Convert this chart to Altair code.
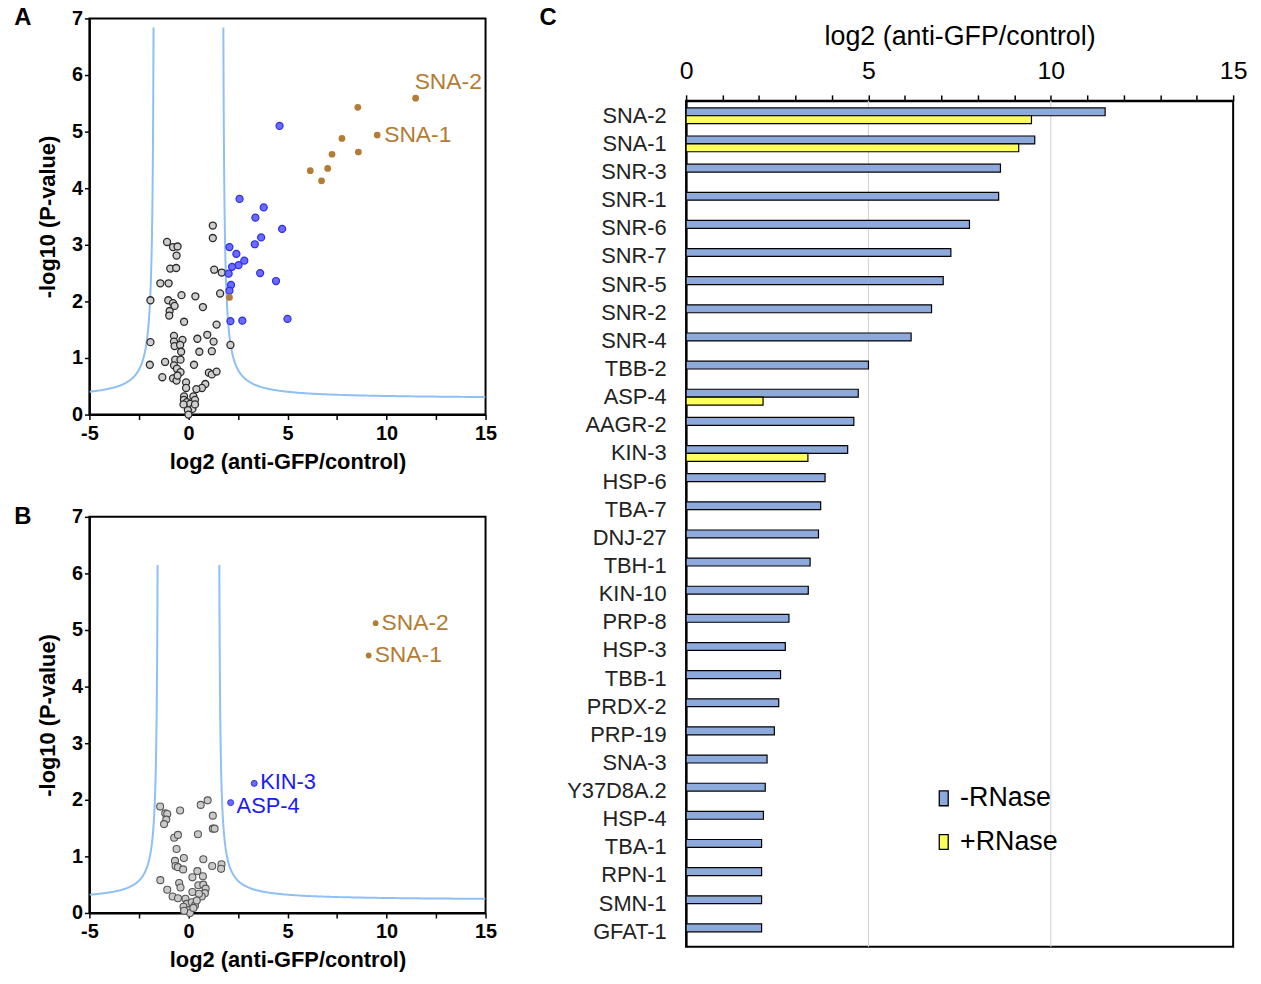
import altair as alt
import pandas as pd
import numpy as np

FONT = "Liberation Sans"

# ---------------- Panel A data ----------------
a_gray_x = [-1.08, -0.78, -0.55, -0.60, -0.92, -0.62, 1.23, 1.23, -1.42, -1.00,
            -1.92, -1.02, -0.78, -0.70, -0.95, -0.97, -0.35, 0.35, 0.73, 1.30,
            1.68, 1.60, 1.42, -0.22, 2.12, -1.92, -0.73, -0.30, -0.73, -0.70,
            -0.42, -0.37, 0.45, 0.95, 1.27, 0.55, 1.18, -0.67, -0.40, -1.18,
            -1.95, -0.73, -0.58, -1.32, -0.78, -0.60, -0.40, -0.55, 0.28, 1.03,
            1.18, 1.42, 0.85, 0.68, 0.40, -0.12, -0.12, -0.22, -0.23, -0.08,
            0.25, 0.33, 0.08, 0.20, -0.03, 0.00, 0.33, -0.25]
a_gray_y = [3.05, 2.96, 2.97, 2.81, 2.58, 2.59, 3.34, 3.12, 2.32, 2.32,
            2.02, 2.02, 1.97, 1.92, 1.83, 1.75, 2.11, 2.09, 1.90, 2.56,
            2.51, 2.14, 1.59, 1.64, 1.23, 1.28, 1.39, 1.32, 1.29, 1.21,
            1.23, 1.11, 1.34, 1.41, 1.29, 1.11, 1.12, 0.97, 0.97, 0.93,
            0.88, 0.87, 0.81, 0.66, 0.64, 0.60, 0.75, 0.69, 0.88, 0.74,
            0.71, 0.76, 0.54, 0.47, 0.45, 0.57, 0.47, 0.32, 0.26, 0.22,
            0.32, 0.26, 0.19, 0.10, 0.08, 0.00, 0.18, 0.18]
a_blue_x = [4.60, 2.58, 3.80, 3.38, 4.73, 3.67, 3.35, 2.07, 2.42, 2.82,
            2.53, 2.20, 2.03, 3.62, 4.42, 2.15, 2.07, 2.12, 2.72, 5.00]
a_blue_y = [5.10, 3.81, 3.66, 3.48, 3.28, 3.13, 3.01, 2.96, 2.84, 2.72,
            2.64, 2.61, 2.49, 2.50, 2.36, 2.29, 2.19, 1.65, 1.66, 1.69]
a_orange_x = [11.47, 8.55, 9.53, 7.75, 7.25, 8.58, 6.15, 7.03, 6.72, 2.07]
a_orange_y = [5.59, 5.43, 4.94, 4.88, 4.60, 4.64, 4.31, 4.35, 4.13, 2.07]

# ---------------- Panel B data ----------------
b_gray_x = [-1.43, -1.17, -1.07, -1.12, -1.23, -0.42, 0.62, 0.97, 1.23, 1.23,
            1.32, -0.72, -0.53, 0.48, -0.60, -0.23, -0.68, 0.75, -0.65, -0.53,
            -0.27, 1.20, 1.67, 1.65, -1.42, -0.47, -0.40, 0.45, 0.20, 0.73,
            0.50, 0.75, 0.87, 0.83, -1.07, -0.80, -0.53, -0.15, 0.20, 0.67,
            0.53, -0.08, 0.17, 0.33, 0.42, -0.25, 0.00, 0.08, -0.22, 0.25]
b_gray_y = [1.88, 1.76, 1.75, 1.65, 1.57, 1.81, 1.91, 1.99, 1.72, 1.49,
            1.49, 1.33, 1.38, 1.39, 1.13, 0.97, 0.92, 0.95, 0.83, 0.81,
            0.77, 0.83, 0.86, 0.78, 0.58, 0.53, 0.45, 0.74, 0.63, 0.65,
            0.49, 0.50, 0.43, 0.35, 0.41, 0.29, 0.26, 0.25, 0.37, 0.29,
            0.34, 0.16, 0.19, 0.13, 0.22, 0.11, 0.05, 0.00, 0.04, 0.09]
b_orange_names = ["SNA-2", "SNA-1"]
b_orange_x = [9.45, 9.10]
b_orange_y = [5.12, 4.55]
b_blue_names = ["KIN-3", "ASP-4"]
b_blue_x = [3.32, 2.13]
b_blue_y = [2.29, 1.95]

# significance threshold curves: y = c / (|x| - x0) + y0
a_curve = {"x0": 1.70, "c": 0.411, "y0": 0.279, "top": 6.84}
b_curve = {"x0": 1.50, "c": 0.346, "y0": 0.224, "top": 6.15}

# ---------------- Panel C data ----------------
genes = ["SNA-2", "SNA-1", "SNR-3", "SNR-1", "SNR-6", "SNR-7", "SNR-5", "SNR-2",
         "SNR-4", "TBB-2", "ASP-4", "AAGR-2", "KIN-3", "HSP-6", "TBA-7", "DNJ-27",
         "TBH-1", "KIN-10", "PRP-8", "HSP-3", "TBB-1", "PRDX-2", "PRP-19", "SNA-3",
         "Y37D8A.2", "HSP-4", "TBA-1", "RPN-1", "SMN-1", "GFAT-1"]
minus_rnase = [11.49, 9.56, 8.62, 8.57, 7.77, 7.26, 7.05, 6.73, 6.17, 5.00,
               4.72, 4.60, 4.43, 3.81, 3.69, 3.63, 3.40, 3.35, 2.82, 2.72,
               2.59, 2.54, 2.42, 2.22, 2.17, 2.12, 2.07, 2.07, 2.07, 2.07]
plus_genes = ["SNA-2", "SNA-1", "ASP-4", "KIN-3"]
plus_rnase = [9.47, 9.12, 2.11, 3.34]
series_names = ["-RNase", "+RNase"]
series_colors = ["#8eaadc", "#ffff5c"]
grid_vals = [5, 10]

ORANGE = "#b37b34"
BLUE_TXT = "#1a1aff"
CURVE = "#8ec0f5"

LABEL_EXPR = ("datum.value % 5 === 0 ? (datum.value < 0 ? '-' + abs(datum.value) "
              ": '' + datum.value) : ''")


def curve_df(p, xmin=-5, xmax=15):
    rows = []
    for sign, lim in ((-1, -xmin), (1, xmax)):
        dmin = p["c"] / (p["top"] - p["y0"])
        for i, d in enumerate(np.geomspace(dmin, lim - p["x0"], 300)):
            rows.append({"x": sign * (p["x0"] + d), "y": p["c"] / d + p["y0"],
                         "branch": sign, "o": i})
    return pd.DataFrame(rows)


X = alt.X("x:Q", scale=alt.Scale(domain=[-5, 15], nice=False, zero=False),
          axis=alt.Axis(values=[-5, -2.5, 0, 2.5, 5, 7.5, 10, 12.5, 15],
                        labelExpr=LABEL_EXPR,
                        labelFlush=False, labelOverlap=False,
                        title="log2 (anti-GFP/control)",
                        labelFontSize=20, labelFontWeight="bold",
                        titleFontSize=22, titleFontWeight="bold",
                        tickSize=5, tickWidth=1.5, labelPadding=4, titlePadding=8,
                        domainWidth=2))
Y = alt.Y("y:Q", scale=alt.Scale(domain=[0, 7], nice=False),
          axis=alt.Axis(values=[0, 1, 2, 3, 4, 5, 6, 7],
                        title="-log10 (P-value)",
                        labelFontSize=20, labelFontWeight="bold",
                        titleFontSize=22, titleFontWeight="bold",
                        tickSize=5, tickWidth=1.5, labelPadding=2, titlePadding=12,
                        domainWidth=2))


def pts(xs, ys, **kw):
    return alt.Chart(pd.DataFrame({"x": xs, "y": ys})).mark_point(
        filled=True, opacity=1, **kw).encode(x=X, y=Y)


def labels(names, xs, ys, color, dx, dy, size=23):
    return alt.Chart(pd.DataFrame({"x": xs, "y": ys, "t": names})).mark_text(
        align="left", baseline="middle", dx=dx, dy=dy, fontSize=size, color=color,
        font=FONT).encode(x=X, y=Y, text="t:N")


def letter(ch, px, py):
    return alt.Chart(pd.DataFrame({"t": [ch]})).mark_text(
        fontSize=24, fontWeight="bold", font=FONT, color="black",
        align="center", baseline="middle").encode(
        x=alt.value(px), y=alt.value(py), text="t:N")


def curve_layer(p):
    return alt.Chart(curve_df(p)).mark_line(color=CURVE, strokeWidth=2, clip=True).encode(
        x=X, y=Y, detail="branch:N", order="o:Q")


panel_a = alt.layer(
    curve_layer(a_curve),
    pts(a_gray_x, a_gray_y, size=50, fill="#cfcfcf", stroke="#2a2a2a", strokeWidth=1.3),
    pts(a_blue_x, a_blue_y, size=50, fill="#6b6bff", stroke="#2b2be6", strokeWidth=1.2),
    pts(a_orange_x, a_orange_y, size=46, fill=ORANGE, strokeWidth=0),
    labels(["SNA-2"], [a_orange_x[0]], [a_orange_y[0]], ORANGE, -1, -16),
    labels(["SNA-1"], [a_orange_x[2]], [a_orange_y[2]], ORANGE, 7, 0),
    letter("A", -67, 0),
).properties(width=399, height=399)

panel_b = alt.layer(
    curve_layer(b_curve),
    pts(b_gray_x, b_gray_y, size=50, fill="#cacaca", stroke="#555555", strokeWidth=1.1),
    pts(b_blue_x, b_blue_y, size=36, fill="#6b6bff", stroke="#2b2be6", strokeWidth=1.0),
    pts(b_orange_x, b_orange_y, size=34, fill=ORANGE, strokeWidth=0),
    labels(b_orange_names, b_orange_x, b_orange_y, ORANGE, 6, 0),
    labels(b_blue_names[:1], b_blue_x[:1], b_blue_y[:1], BLUE_TXT, 6, -1, size=22),
    labels(b_blue_names[1:], b_blue_x[1:], b_blue_y[1:], BLUE_TXT, 6, 3, size=22),
    letter("B", -67, 0),
).properties(width=399, height=399)

# ---------------- Panel C ----------------
bars = pd.concat([
    pd.DataFrame({"gene": genes, "value": minus_rnase, "series": series_names[0]}),
    pd.DataFrame({"gene": plus_genes, "value": plus_rnase, "series": series_names[1]}),
])

XC = alt.X("value:Q", scale=alt.Scale(domain=[0, 15], nice=False),
           axis=alt.Axis(orient="top", values=list(range(16)),
                         labelExpr=LABEL_EXPR,
                         labelFlush=False, labelOverlap=False,
                         title="log2 (anti-GFP/control)",
                         labelFontSize=25, titleFontSize=27, titleFontWeight="normal",
                         tickSize=6, tickWidth=1.5, labelPadding=12, titlePadding=8,
                         domainWidth=2))

grid = alt.Chart(pd.DataFrame({"value": grid_vals})).mark_rule(
    color="#d6d6d6", strokeWidth=1.2).encode(x=XC)

bar_layer = alt.Chart(bars).mark_bar(stroke="black", strokeWidth=1.2).encode(
    x=XC,
    y=alt.Y("gene:N", sort=genes,
            scale=alt.Scale(paddingInner=0.44, paddingOuter=0.25),
            axis=alt.Axis(title=None, ticks=False, labelFontSize=22,
                          labelPadding=20, domainWidth=2, labelColor="#222222")),
    yOffset=alt.YOffset("series:N", sort=series_names,
                        scale=alt.Scale(domain=series_names, paddingInner=0, paddingOuter=0)),
    color=alt.Color("series:N",
                    scale=alt.Scale(domain=series_names, range=series_colors),
                    legend=alt.Legend(title=None, orient="none", legendX=246, legendY=689,
                                      symbolType="M-0.6,-1H0.6V1H-0.6Z", symbolSize=225,
                                      symbolStrokeColor="black", symbolStrokeWidth=1.3,
                                      labelFontSize=27, labelFont=FONT, rowPadding=16,
                                      labelOffset=3)),
)

panel_c = alt.layer(grid, bar_layer, letter("C", -139, -83)).properties(width=551, height=852)

# an empty, invisible strip that anchors the top of the right column
spacer = alt.Chart(pd.DataFrame({"t": [""]})).mark_text().encode(
    x=alt.value(0), y=alt.value(0), text="t:N"
).properties(width=551, height=1, view=alt.ViewBackground(stroke="transparent"))

chart = alt.hconcat(
    alt.vconcat(panel_a, panel_b, spacing=31),
    alt.vconcat(spacer, panel_c, spacing=-19).resolve_legend(color="independent"),
    spacing=40,
).resolve_legend(color="independent").configure_axis(
    domainColor="black", tickColor="black", labelColor="black", titleColor="black",
    grid=False, labelFont=FONT, titleFont=FONT,
).configure_view(stroke="black", strokeWidth=2).configure_text(font=FONT).properties(
    padding={"left": 5, "top": -6, "right": 5, "bottom": 5})

chart.save("out.html", embed_options={"renderer": "svg", "actions": False})
